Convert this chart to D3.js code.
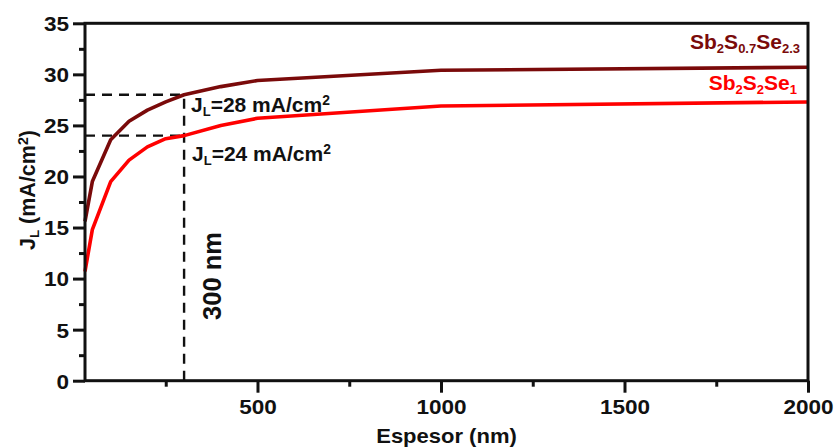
<!DOCTYPE html>
<html>
<head>
<meta charset="utf-8">
<script src="https://cdn.jsdelivr.net/npm/d3@7"></script>
<style>
  html, body { margin: 0; padding: 0; background: #fff; }
  svg text { font-family: "Liberation Sans", Arial, sans-serif; font-weight: bold; fill: #111; }
</style>
</head>
<body>
<svg id="chart" width="835" height="448"></svg>
<script>
// Absorber thickness (nm) and photogenerated current density J_L (mA/cm²)
const thickness = [30, 50, 100, 150, 200, 250, 300, 400, 500, 1000, 2000];
const jlSeSrich = [15.6, 19.5, 23.6, 25.4, 26.5, 27.3, 28.0, 28.8, 29.4, 30.4, 30.7];   // Sb2S0.7Se2.3
const jlSrich   = [10.7, 14.8, 19.5, 21.6, 22.9, 23.7, 24.0, 25.0, 25.7, 26.9, 27.3];   // Sb2S2Se1

const xMajorTicks = [500, 1000, 1500, 2000];
const xMinorTicks = [250, 750, 1250, 1750];
const yMajorTicks = [0, 5, 10, 15, 20, 25, 30, 35];
const yMinorTicks = [2.5, 7.5, 12.5, 17.5, 22.5, 27.5, 32.5];

// Marked operating point
const markThickness = 300;
const markJ = [28, 24];

const W = 835, H = 448;
const margin = { left: 85, right: 27, top: 23.3, bottom: 67.3 };

const svg = d3.select("#chart");
const x = d3.scaleLinear().domain([30, 2000]).range([margin.left, W - margin.right]);
const y = d3.scaleLinear().domain([0, 35]).range([H - margin.bottom, margin.top]);

const axisW = 3;
const tickFont = 20.5;
const stretch = 1.1;

// Minor ticks
const gx = svg.append("g").attr("transform", `translate(0,${y(0)})`);
gx.call(d3.axisBottom(x).tickValues(xMinorTicks).tickSize(6).tickFormat(""))
  .call(g => g.select(".domain").remove())
  .selectAll("line").attr("stroke", "#111").attr("stroke-width", axisW);
const gxM = svg.append("g").attr("transform", `translate(0,${y(0)})`);
gxM.call(d3.axisBottom(x).tickValues(xMajorTicks).tickSize(12).tickFormat(d3.format("d")))
  .call(g => g.select(".domain").remove());
gxM.selectAll("line").attr("stroke", "#111").attr("stroke-width", axisW);
gxM.selectAll("text")
  .attr("font-size", tickFont)
  .attr("fill", "#111")
  .attr("dy", "0.71em")
  .attr("y", 19)
  .attr("transform", `scale(${stretch},1)`);

const gy = svg.append("g").attr("transform", `translate(${x.range()[0]},0)`);
gy.call(d3.axisLeft(y).tickValues(yMinorTicks).tickSize(6).tickFormat(""))
  .call(g => g.select(".domain").remove())
  .selectAll("line").attr("stroke", "#111").attr("stroke-width", axisW);
const gyM = svg.append("g").attr("transform", `translate(${x.range()[0]},0)`);
gyM.call(d3.axisLeft(y).tickValues(yMajorTicks).tickSize(12).tickFormat(d3.format("d")))
  .call(g => g.select(".domain").remove());
gyM.selectAll("line").attr("stroke", "#111").attr("stroke-width", axisW);
gyM.selectAll("text")
  .attr("font-size", tickFont)
  .attr("fill", "#111")
  .attr("x", -16 / stretch)
  .attr("dy", "0.36em")
  .attr("transform", `scale(${stretch},1)`);

// Dashed guides at the 300 nm point
const dash = "10,7";
markJ.forEach(v => {
  svg.append("line")
    .attr("x1", x.range()[0]).attr("x2", x(markThickness))
    .attr("y1", y(v)).attr("y2", y(v))
    .attr("stroke", "#111").attr("stroke-width", 2.4).attr("stroke-dasharray", dash);
});
svg.append("line")
  .attr("x1", x(markThickness)).attr("x2", x(markThickness))
  .attr("y1", y(0)).attr("y2", y(d3.max(markJ)))
  .attr("stroke", "#111").attr("stroke-width", 2.4).attr("stroke-dasharray", dash);

// Curves
const line = d3.line().x((d, i) => x(thickness[i])).y(d => y(d));
svg.append("path").datum(jlSrich)
  .attr("d", line).attr("fill", "none").attr("stroke", "#ff0000").attr("stroke-width", 3.6)
  .attr("stroke-linejoin", "round");
svg.append("path").datum(jlSeSrich)
  .attr("d", line).attr("fill", "none").attr("stroke", "#7a0a0a").attr("stroke-width", 3.6)
  .attr("stroke-linejoin", "round");

// Frame
svg.append("rect")
  .attr("x", x.range()[0]).attr("y", y.range()[1])
  .attr("width", x.range()[1] - x.range()[0])
  .attr("height", y.range()[0] - y.range()[1])
  .attr("fill", "none").attr("stroke", "#111").attr("stroke-width", axisW);

// Text helper with sub/superscripts: parts = [[text, "n"|"sub"|"sup"], ...]
function rich(g, parts, size) {
  const t = g.append("text").attr("font-size", size);
  parts.forEach(([s, kind]) => {
    const ts = t.append("tspan").text(s);
    if (kind === "sub") ts.attr("font-size", size * 0.62).attr("baseline-shift", "-28%");
    else if (kind === "sup") ts.attr("font-size", size * 0.66).attr("baseline-shift", "50%");
  });
  return t;
}

// Axis titles
svg.append("text")
  .attr("x", (x.range()[0] + x.range()[1]) / 2 / stretch).attr("y", 443)
  .attr("transform", `scale(${stretch},1)`)
  .attr("text-anchor", "middle").attr("font-size", 20)
  .text("Espesor (nm)");

const yt = svg.append("g").attr("transform", `translate(35,190) rotate(-90)`);
rich(yt, [["J", "n"], ["L", "sub"], [" (mA/cm", "n"], ["2", "sup"], [")", "n"]], 21.5)
  .attr("text-anchor", "middle");

// Annotations
const a1 = svg.append("g").attr("transform", `translate(191,112)`);
rich(a1, [["J", "n"], ["L", "sub"], ["=28 mA/cm", "n"], ["2", "sup"]], 21);
const a2 = svg.append("g").attr("transform", `translate(192,161)`);
rich(a2, [["J", "n"], ["L", "sub"], ["=24 mA/cm", "n"], ["2", "sup"]], 21);

svg.append("g").attr("transform", `translate(221,276) rotate(-90)`)
  .append("text").attr("text-anchor", "middle").attr("font-size", 25.5)
  .text("300 nm");

// Series labels
const l1 = svg.append("g").attr("transform", `translate(800,49)`);
rich(l1, [["Sb", "n"], ["2", "sub"], ["S", "n"], ["0.7", "sub"], ["Se", "n"], ["2.3", "sub"]], 21)
  .attr("text-anchor", "end").attr("fill", "#7a0a0a").selectAll("tspan").attr("fill", "#7a0a0a");
const l2 = svg.append("g").attr("transform", `translate(797,90)`);
rich(l2, [["Sb", "n"], ["2", "sub"], ["S", "n"], ["2", "sub"], ["Se", "n"], ["1", "sub"]], 21)
  .attr("text-anchor", "end").attr("fill", "#ff0000").selectAll("tspan").attr("fill", "#ff0000");
</script>
</body>
</html>
